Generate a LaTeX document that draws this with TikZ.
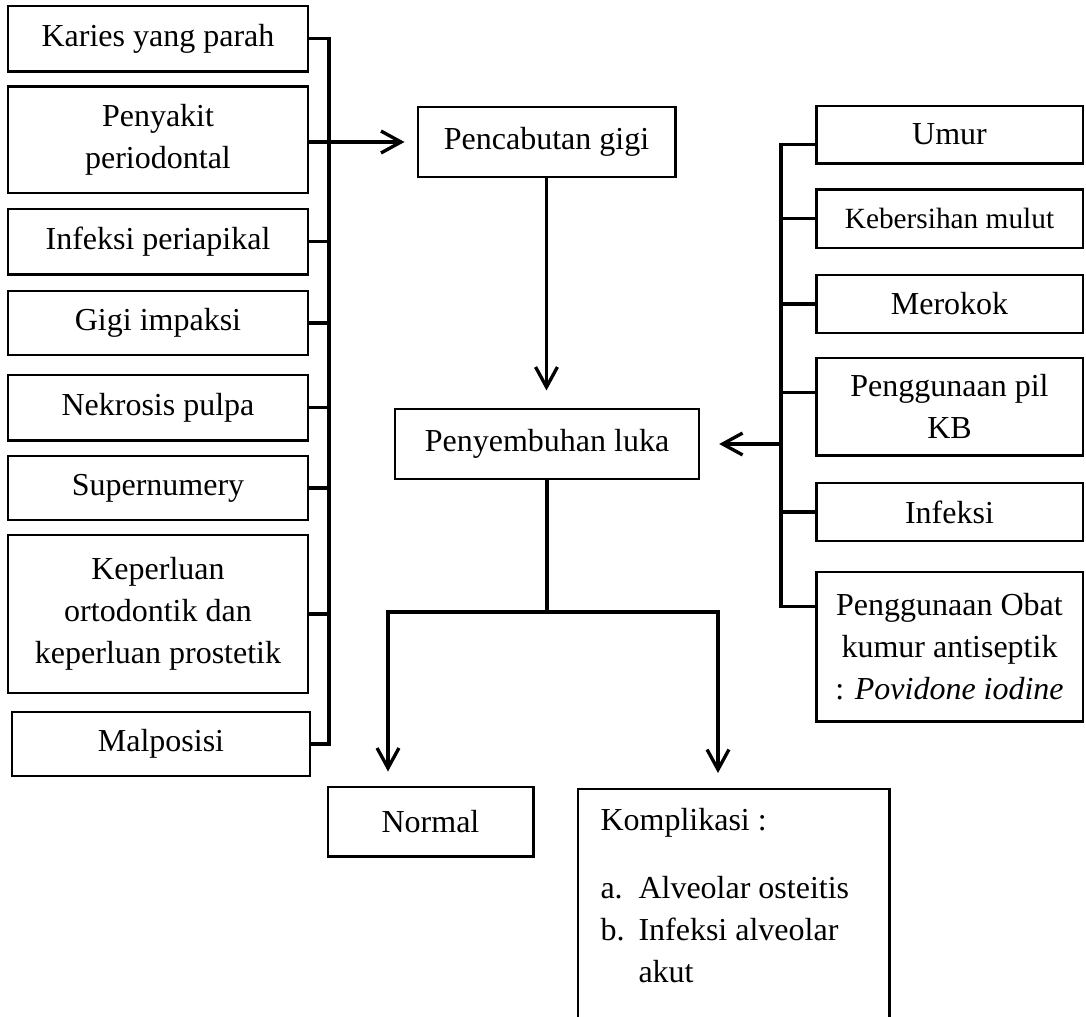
\documentclass[tikz,border=0pt]{standalone}
\usepackage{fontspec}
\setmainfont{Liberation Serif}
\usetikzlibrary{arrows.meta,calc}

\begin{document}
\begin{tikzpicture}[x=0.375pt,y=-0.375pt,
        kotak/.style={draw,line width=1.1pt,align=center,inner sep=2pt,font=\fontsize{12}{15.75}\selectfont},
        kiri/.style={kotak,minimum width=112.5pt},
        kanan/.style={kotak,minimum width=100.1pt},
        garis/.style={line width=1.25pt},
        panah/.style={garis,-{Straight Barb[length=7.5pt,width=8.2pt]}}]

        \useasboundingbox (0,0) rectangle (1086,1017);

        \node at (158,38.5)[kiri,minimum height=24.4pt] (karies) {Karies yang parah};

        \node at (158,139.5)[kiri,minimum height=40.1pt] (penyakit) {Penyakit\\periodontal};

        \node at (158,241.5)[kiri,minimum height=24.4pt] (periapikal) {Infeksi periapikal};

        \node at (158,323)[kiri,minimum height=24pt] (impaksi) {Gigi impaksi};

        \node at (158,407.5)[kiri,minimum height=24.4pt] (nekrosis) {Nekrosis pulpa};

        \node at (158,488)[kiri,minimum height=24pt] (supernum) {Supernumery};

        \node at (158,614)[kiri,minimum height=59.25pt] (keperluan) {Keperluan\\ortodontik dan\\keperluan prostetik};

        \node at (161,744)[kiri,minimum width=111.75pt,minimum height=24pt] (malposisi) {Malposisi};

        \coordinate (lbar) at (329,0);

        \draw[garis] (karies.east) -- (karies.east -| lbar) -- (malposisi.east -| lbar) -- (malposisi.east);
        \draw[garis] (periapikal.east) -- (periapikal.east -| lbar);
        \draw[garis] (impaksi.east) -- (impaksi.east -| lbar);
        \draw[garis] (nekrosis.east) -- (nekrosis.east -| lbar);
        \draw[garis] (supernum.east) -- (supernum.east -| lbar);
        \draw[garis] (keperluan.east) -- (keperluan.east -| lbar);

        \node at (546.5,142)[kotak,minimum width=96.4pt,minimum height=26.25pt] (pencabutan) {Pencabutan gigi};

        \draw[panah,shorten >=4.5pt] (penyakit.east |- pencabutan.west) -- (pencabutan.west);

        \node at (547,444)[kotak,minimum width=114pt,minimum height=26.25pt] (penyembuhan) {Penyembuhan luka};

        \draw[panah,shorten >=6.4pt] (pencabutan.south) -- (pencabutan.south |- penyembuhan.north);

        \node at (949.5,134.5)[kanan,minimum height=21.4pt] (umur) {Umur};

        \node at (949.5,218.5)[kanan,minimum height=22.1pt,font=\fontsize{11}{14}\selectfont] (kebersihan) {Kebersihan mulut};

        \node at (949.5,304)[kanan,minimum height=21.75pt] (merokok) {Merokok};

        \node at (949.5,406.5)[kanan,minimum height=36.4pt] (pilkb) {Penggunaan pil\\KB};

        \node at (949.5,512)[kanan,minimum height=21.75pt] (infeksi) {Infeksi};

        \node at (949.5,646.5)[kanan,minimum height=55.9pt] (obat) {Penggunaan Obat\\kumur antiseptik\\: \textit{Povidone iodine}};

        \coordinate (rbar) at (781,0);
        \coordinate (tumur) at ($(umur.north west)!0.67!(umur.south west)$);
        \coordinate (tpilkb) at ($(pilkb.north west)!0.36!(pilkb.south west)$);
        \coordinate (tobat) at ($(obat.north west)!0.235!(obat.south west)$);

        \draw[garis] (tumur) -- (tumur -| rbar) -- (tobat -| rbar) -- (tobat);
        \draw[garis] (kebersihan.west) -- (kebersihan.west -| rbar);
        \draw[garis] (merokok.west) -- (merokok.west -| rbar);
        \draw[garis] (tpilkb) -- (tpilkb -| rbar);
        \draw[garis] (infeksi.west) -- (infeksi.west -| rbar);

        \draw[panah,shorten >=7pt] (rbar |- penyembuhan.east) -- (penyembuhan.east);

        \node at (430.5,821.5)[kotak,minimum width=76.9pt,minimum height=25.9pt] (normal) {Normal};

        \node at (578,789)[anchor=north west,align=flush left,text width=99.75pt,inner xsep=8.25pt,inner ysep=7pt,font=\fontsize{12}{15.75}\selectfont] (komplikasi) {Komplikasi :\\[9.75pt]\makebox[14.25pt][l]{a.}Alveolar osteitis\\\makebox[14.25pt][l]{b.}Infeksi alveolar\\\hspace*{14.25pt}akut};

        \coordinate (kbawah) at (0,1040);

        \draw[line width=1.1pt] (komplikasi.north west |- kbawah) -- (komplikasi.north west) -- (komplikasi.north east) -- (komplikasi.north east |- kbawah);

        \coordinate (cabang) at (546,612);
        \coordinate (cabangkiri) at (388,612);
        \coordinate (cabangkanan) at (718,612);

        \draw[garis] (penyembuhan.south) -- (penyembuhan.south |- cabang);
        \draw[panah,shorten >=5.25pt] (cabang) -- (cabangkiri) -- (cabangkiri |- normal.north);
        \draw[panah,shorten >=6pt] (cabang) -- (cabangkanan) -- (cabangkanan |- komplikasi.north);
\end{tikzpicture}
\end{document}
